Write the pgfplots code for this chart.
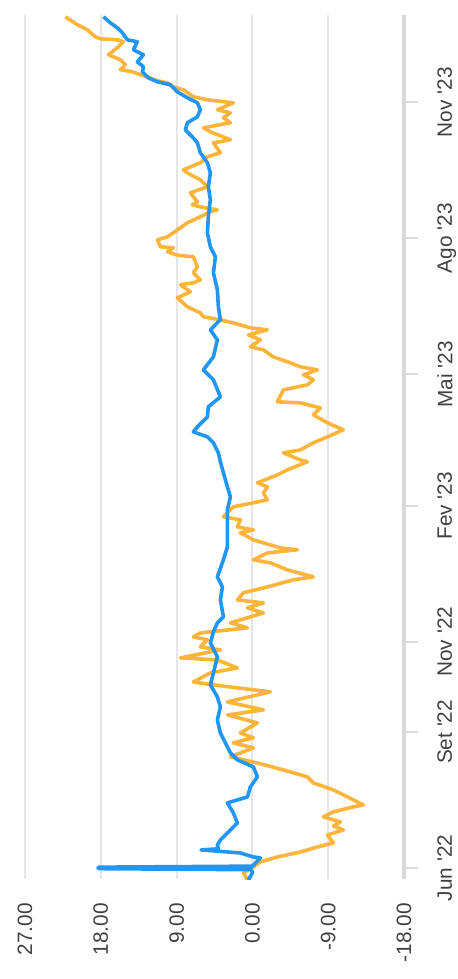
\documentclass[border=0pt]{standalone}
\usepackage{pgfplots}
\pgfplotsset{compat=1.18}
\usepackage{fontspec}
\setmainfont{Liberation Sans}

\definecolor{serieA}{HTML}{2196F3}
\definecolor{serieB}{HTML}{FBB43C}
\definecolor{gridc}{HTML}{E6E6E6}
\definecolor{axisc}{HTML}{DADADA}
\definecolor{labelc}{HTML}{404040}

% days counted from 1 Jun 2022
\pgfplotstableread{
d v
-8.1 0.59
-3.4 1.07
0.7 -0.12
4.1 -0.95
7.4 -2.97
10.8 -5.70
14.2 -7.72
16.9 -9.62
22.3 -8.91
25.7 -10.81
28.4 -9.62
31.1 -10.45
34.5 -8.43
37.9 -9.62
41.3 -11.99
42.6 -13.18
46.0 -11.99
52.8 -9.62
57.5 -7.24
61.6 -6.53
66.3 -3.68
71.0 -0.59
75.1 2.61
81.2 -0.12
84.6 2.26
88.0 -0.12
91.3 1.43
98.1 -0.59
103.5 2.97
106.9 -1.31
112.3 2.97
119.1 -2.14
123.8 4.63
125.8 7.01
131.9 4.99
135.3 1.78
140.7 4.16
142.1 8.55
147.5 3.80
149.5 6.18
154.3 5.34
156.3 7.01
159.0 6.18
162.4 0.59
165.8 2.61
167.8 1.43
172.5 -1.31
175.9 0.59
179.3 -1.31
181.3 1.78
186.1 1.07
190.1 -1.78
194.9 -4.87
196.9 -7.24
201.6 -4.16
206.4 -2.14
208.4 -0.12
213.1 -1.78
215.2 -5.34
216.5 -3.33
219.9 -1.31
221.9 -0.12
226.7 1.43
228.7 -0.12
230.7 1.78
235.5 1.43
237.5 3.44
244.3 2.26
247.0 -0.12
249.0 -1.78
253.7 -1.31
257.8 -1.78
260.5 -0.59
265.9 -2.97
269.3 -4.16
274.7 -6.53
276.0 -5.70
280.8 -3.68
282.8 -5.70
287.6 -7.24
291.6 -8.91
296.4 -10.81
301.1 -8.91
306.5 -7.24
311.2 -8.08
314.6 -5.70
315.3 -2.97
323.4 -3.68
326.8 -6.53
330.2 -7.24
333.6 -6.06
336.9 -7.72
339.0 -5.70
342.4 -4.16
345.7 -2.49
350.5 -1.31
352.5 0.24
357.2 -0.95
360.6 0.48
364.0 -1.78
365.4 0.24
368.7 2.26
370.8 3.80
372.8 5.82
375.5 6.18
379.6 7.72
385.7 8.91
389.7 7.36
394.5 8.55
395.8 7.01
397.8 6.18
402.6 7.01
406.6 6.53
413.4 7.01
414.5 8.91
416.8 10.09
419.5 9.38
420.2 10.93
424.9 11.28
426.9 10.09
436.4 7.72
440.5 6.18
443.9 4.99
445.2 4.16
447.2 6.18
448.6 7.13
450.6 6.53
456.7 7.36
460.8 5.34
465.5 6.18
470.2 7.72
472.3 8.19
477.0 6.18
481.1 5.34
483.8 3.80
490.5 4.63
492.6 2.61
498.0 4.99
500.7 5.82
504.1 2.61
507.5 3.44
510.8 2.61
512.9 4.16
517.6 2.26
519.6 5.34
521.7 7.01
526.4 8.19
528.4 9.38
531.1 10.09
532.5 11.28
535.0 12.47
538.6 14.25
540.0 15.68
543.3 15.08
546.7 15.68
550.1 17.10
555.5 15.91
558.9 15.32
560.2 16.03
560.9 18.05
562.3 18.65
567.0 19.60
570.4 20.78
575.8 22.21
}\orangedata

\pgfplotstableread{
d v
-8.1 0.48
-3.4 0.00
-1.2 0.10
-0.5 18.30
0.5 18.30
1.2 0.00
6.8 -0.95
7.4 -0.12
10.1 1.43
12.2 6.10
12.9 4.04
15.6 4.16
18.9 3.80
25.7 2.61
30.4 1.78
37.2 2.26
44.0 2.97
48.0 0.59
54.8 0.24
61.6 -0.59
68.3 -0.12
73.1 1.78
77.8 2.61
81.9 2.97
91.3 3.80
100.1 4.16
108.9 3.80
115.7 4.16
123.8 4.99
131.9 4.63
142.8 4.16
152.2 4.99
159.7 4.63
165.8 4.16
169.8 3.44
181.3 3.80
190.1 3.56
196.9 4.16
208.4 3.44
217.2 2.97
230.7 2.97
242.2 2.97
251.0 2.61
257.8 2.97
267.3 3.44
274.7 3.80
280.8 4.04
287.6 4.63
291.6 5.34
295.0 7.01
298.4 6.53
305.1 5.34
311.9 5.23
318.7 3.80
330.2 4.63
336.9 5.82
345.7 4.63
357.2 4.16
364.0 4.99
370.8 3.80
379.6 4.04
391.1 4.16
402.6 4.63
413.4 4.39
420.2 4.99
429.6 5.34
440.5 5.23
452.0 4.99
460.8 5.23
470.2 4.99
477.0 5.34
483.8 6.18
490.5 6.53
494.6 7.13
499.3 7.96
504.1 7.72
508.1 6.53
512.9 6.18
517.6 6.53
521.0 7.72
525.0 8.91
529.8 9.74
531.8 11.28
534.5 12.35
538.6 13.06
542.0 12.94
545.3 13.66
550.1 12.94
553.5 14.13
558.9 13.66
560.2 14.85
565.0 15.44
568.3 16.03
571.7 16.86
575.8 17.69
}\bluedata

\begin{document}
\begin{tikzpicture}
\begin{axis}[
    scale only axis,
    width=189.5pt,
    height=432pt,
    x dir=reverse,
    xmin=-18, xmax=27,
    ymin=-7.5, ymax=577,
    axis x line*=bottom,
    axis y line*=right,
    x axis line style={draw=none},
    y axis line style={draw=axisc, line width=1.6pt},
    xmajorgrids,
    grid style={draw=gridc, line width=1pt},
    xtick={-18,-9,0,9,18,27},
    xticklabels={-18.00,-9.00,0.00,9.00,18.00,27.00},
    xtick style={draw=none},
    ytick={0,92,153,245,334,426,518},
    yticklabels={Jun \textquotesingle22,Set \textquotesingle22,Nov \textquotesingle22,Fev \textquotesingle23,Mai \textquotesingle23,Ago \textquotesingle23,Nov \textquotesingle23},
    ytick style={draw=axisc, line width=1pt},
    major tick length=7pt,
    tick align=outside,
    tick label style={font=\fontsize{10.4}{12.5}\selectfont, text=labelc, inner sep=0pt},
    xticklabel style={rotate=90, anchor=east},
    yticklabel style={rotate=90, anchor=north},
    xticklabel shift=5pt,
    yticklabel shift=9.5pt,
    line join=round,
]
\addplot[serieB, line width=1.8pt] table[x=v, y=d] {\orangedata};
\addplot[serieA, line width=1.8pt] table[x=v, y=d] {\bluedata};
\end{axis}
\pgfresetboundingbox
\path ([xshift=-12.5pt, yshift=-50pt]current axis.south west) rectangle ([xshift=27pt, yshift=7.5pt]current axis.north east);
\end{tikzpicture}
\end{document}
